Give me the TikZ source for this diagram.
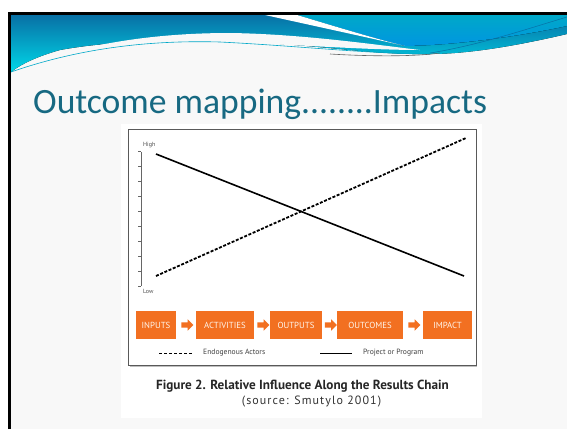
\documentclass[tikz,border=0pt]{standalone}
\usepackage{fontspec}
\setmainfont{Carlito}
\newfontfamily\figfont{PT Sans}
\newfontfamily\figspaced[LetterSpace=9]{PT Sans}
\usetikzlibrary{positioning,shapes.arrows,calc}
\definecolor{titleteal}{RGB}{23,105,130}
\definecolor{chainorange}{RGB}{242,112,33}
\definecolor{slidegrey}{RGB}{248,248,248}
\definecolor{bannerdark}{RGB}{8,112,165}
\definecolor{bannercyan}{RGB}{0,215,232}
\definecolor{bannerteal}{RGB}{0,168,200}
\definecolor{bannerblue}{RGB}{0,150,225}

\begin{document}
\begin{tikzpicture}[x=1pt,y=-1pt,
  chainbox/.style={fill=chainorange,minimum height=28pt,inner sep=0pt,
    font=\figfont\fontsize{8.8}{9}\selectfont,text=white!92!orange},
  chainarrow/.style={single arrow,fill=chainorange,minimum height=12pt,
    inner sep=2.5pt,single arrow head extend=3pt},
  small/.style={font=\figfont\fontsize{6}{6}\selectfont,text=black!70,inner sep=0pt},
  legendtext/.style={font=\figfont\fontsize{7.6}{8}\selectfont,text=black!75,inner sep=0pt,anchor=west}]
  \useasboundingbox (0,0) rectangle (567,429);
  % slide
  \fill[slidegrey] (11,15) rectangle (567,429);
  \fill[top color=bannerdark,bottom color=bannercyan] (11,15) -- (567,15) -- (567,34)
    .. controls (520,45) and (470,54) .. (430,54) .. controls (380,55) and (330,47) .. (280,44)
    .. controls (200,39) and (120,39) .. (60,50) .. controls (35,57) and (20,65) .. (11,72) -- cycle;
  \fill[slidegrey] (22,67) .. controls (80,45) and (150,33) .. (230,33)
    .. controls (300,34) and (370,44) .. (420,50)
    .. controls (360,50) and (280,43) .. (200,42) .. controls (120,42) and (60,55) .. (22,67) -- cycle;
  \fill[top color=bannerteal,bottom color=bannerblue] (297,15) -- (567,15) -- (567,26)
    .. controls (520,36) and (460,45) .. (405,46) .. controls (380,40) and (340,28) .. (297,15) -- cycle;
  \fill[white] (265,15) -- (297,15) .. controls (340,28) and (380,40) .. (405,46)
    .. controls (370,38) and (310,25) .. (265,15) -- cycle;
  \draw[bannerteal,line width=0.6pt] (11,72) .. controls (80,48) and (150,40) .. (220,42)
    .. controls (300,46) and (370,54) .. (430,54);
  \draw[black!60,line width=0.6pt] (330,54) .. controls (380,57) and (420,56) .. (440,53);
  \draw[bannerdark,line width=0.5pt] (430,53) .. controls (480,45) and (530,28) .. (567,17);
  \draw[line width=3pt] (9.5,429) -- (9.5,13.5) -- (567,13.5);
  % title
  \node[anchor=base west,inner sep=0pt,text=titleteal,font=\fontsize{35.6}{38}\selectfont]
    (title) at (33,113) {Outcome mapping........Impacts};
  % figure
  \fill[white] (121,124) rectangle (482,418);
  \draw[black!25,line width=1.2pt] (130,366.5) -- (477,366.5);
  \draw[black!65,line width=0.9pt] (128,129) rectangle (476,365);
  % axis
  \draw[black!60,line width=0.6pt] (141,152) -- (141,286);
  \foreach \k in {0,...,9}
    \draw[black!60,line width=0.6pt] (138,{151.7+14.9*\k}) -- (141,{151.7+14.9*\k});
  \node[small,anchor=west] (high) at (143,145) {High};
  \node[small,anchor=west] (low) at (143,291) {Low};
  \coordinate (solidA) at (156,154);
  \coordinate (solidB) at (464,276);
  \coordinate (dashA) at (156,276);
  \coordinate (dashB) at (466,138);
  \draw[line width=1.6pt] (solidA) -- (solidB);
  \draw[line width=1.8pt,dash pattern=on 3pt off 1.6pt] (dashA) -- (dashB);
  % results chain
  \node[chainbox,minimum width=40pt] (inputs) at (156,325) {INPUTS};
  \node[chainbox,minimum width=58pt] (activities) at (225,325) {ACTIVITIES};
  \node[chainbox,minimum width=52pt] (outputs) at (296,325) {OUTPUTS};
  \node[chainbox,minimum width=66pt] (outcomes) at (370,325) {OUTCOMES};
  \node[chainbox,minimum width=49pt] (impact) at (447.5,325) {IMPACT};
  \node[chainarrow] (arrA) at ($(inputs.east)!0.5!(activities.west)$) {};
  \node[chainarrow] (arrB) at ($(activities.east)!0.5!(outputs.west)$) {};
  \node[chainarrow] (arrC) at ($(outputs.east)!0.5!(outcomes.west)$) {};
  \node[chainarrow] (arrD) at ($(outcomes.east)!0.5!(impact.west)$) {};
  % legend
  \coordinate (legdashA) at (159,353);
  \coordinate (legdashB) at (192,353);
  \coordinate (legsolA) at (320,353);
  \coordinate (legsolB) at (352,353);
  \draw[line width=1pt,dash pattern=on 3pt off 2pt] (legdashA) -- (legdashB);
  \node[legendtext] (endo) at (203,353) {Endogenous Actors};
  \draw[line width=0.9pt] (legsolA) -- (legsolB);
  \node[legendtext] (proj) at (363,353) {Project or Program};
  % caption
  \node[inner sep=0pt,font=\figfont\bfseries\fontsize{13.2}{14}\selectfont,text=black!85]
    (caption) at (302.5,386) {Figure 2. Relative Influence Along the Results Chain};
  \node[inner sep=0pt,font=\figspaced\fontsize{12}{13}\selectfont,text=black!80]
    (source) at (311.5,402) {(source: Smutylo 2001)};
\end{tikzpicture}
\end{document}
